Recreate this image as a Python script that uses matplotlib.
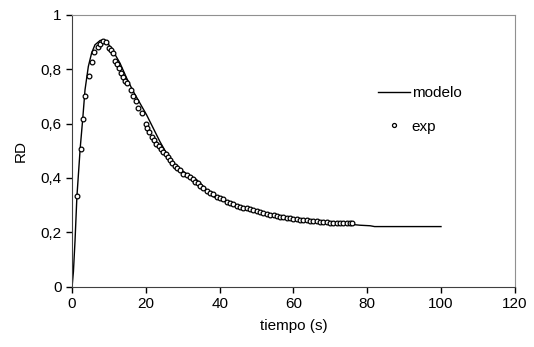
import matplotlib.pyplot as plt
import numpy as np

plt.rcParams['font.family'] = ['Liberation Sans', 'DejaVu Sans']

# modelo
t_mod = [0, 0.36, 0.8, 1.3, 2.2, 2.9, 3.5, 4.4, 5.3, 6.2, 7.6, 8.5, 9.4, 10.3,
         11.7, 13.0, 14.8, 16.6, 18.4, 20.2, 22.0, 23.8, 25.7, 27.5, 29.3, 31.1,
         33.8, 38.3, 47.3, 56.4, 65.4, 74.4, 78.0, 80.8, 82.0, 100]
rd_mod = [0, 0.055, 0.17, 0.33, 0.51, 0.62, 0.724, 0.81, 0.86, 0.89, 0.906, 0.908,
          0.902, 0.883, 0.853, 0.822, 0.767, 0.718, 0.675, 0.632, 0.583, 0.534,
          0.488, 0.454, 0.432, 0.415, 0.393, 0.331, 0.282, 0.252, 0.237, 0.231,
          0.226, 0.224, 0.221, 0.221]

# exp
t_exp = [1.3, 2.35, 3.0, 3.6, 4.7, 5.3, 6.0, 6.9, 7.6, 8.3, 9.2, 9.9, 10.6, 11.1,
         11.7, 12.3, 12.8, 13.2, 13.7, 14.4, 15.0, 15.9, 16.5, 17.2, 17.8, 18.9,
         20.0, 20.4, 20.9, 21.7, 22.1, 22.8, 23.5, 24.1, 24.7, 25.5, 26.0, 26.6,
         27.2, 27.8, 28.5, 29.3, 30.2, 31.1, 32.0, 32.7, 33.3, 34.0, 34.7, 35.6,
         36.5, 37.4, 38.3, 39.2, 40.1, 41.0, 41.9, 42.8, 43.7, 44.6, 45.5, 46.4,
         47.3, 48.2, 49.1, 50.0, 50.9, 51.8, 52.7, 53.7, 54.6, 55.5, 56.4, 57.3,
         58.2, 59.1, 60.0, 60.9, 61.8, 62.7, 63.6, 64.5, 65.4, 66.3, 67.2, 68.1,
         69.0, 69.9, 70.8, 71.7, 72.6, 73.5, 74.4, 75.3, 76.0]
rd_exp = [0.334, 0.507, 0.617, 0.70, 0.775, 0.828, 0.863, 0.883, 0.894, 0.903,
          0.90, 0.88, 0.871, 0.859, 0.832, 0.819, 0.804, 0.788, 0.77, 0.757, 0.75,
          0.723, 0.70, 0.683, 0.657, 0.638, 0.60, 0.583, 0.568, 0.552, 0.54, 0.524,
          0.518, 0.507, 0.495, 0.487, 0.476, 0.465, 0.454, 0.445, 0.436, 0.43,
          0.415, 0.409, 0.403, 0.396, 0.386, 0.381, 0.372, 0.362, 0.353, 0.346,
          0.34, 0.331, 0.325, 0.322, 0.313, 0.307, 0.303, 0.298, 0.294, 0.291,
          0.289, 0.285, 0.281, 0.278, 0.274, 0.27, 0.266, 0.265, 0.263, 0.26,
          0.258, 0.255, 0.254, 0.252, 0.249, 0.248, 0.247, 0.245, 0.245, 0.243,
          0.242, 0.241, 0.239, 0.238, 0.237, 0.236, 0.233, 0.236, 0.236, 0.234,
          0.234, 0.234, 0.233]

xticks = [0, 20, 40, 60, 80, 100, 120]
yticks = [0, 0.2, 0.4, 0.6, 0.8, 1]
ylabels = ['0', '0,2', '0,4', '0,6', '0,8', '1']

fig = plt.figure(figsize=(5.34, 3.47), dpi=100)
ax = fig.add_axes([0.135, 0.174, 0.829, 0.783])

ax.plot(t_mod, rd_mod, color='black', lw=1.0, label='modelo')
ax.plot(t_exp, rd_exp, 'o', ls='none', ms=3.4, mfc='white', mec='black',
        mew=0.9, label='exp')

ax.set_xlim(0, 120)
ax.set_ylim(0, 1)
ax.set_xticks(xticks)
ax.set_yticks(yticks)
ax.set_yticklabels(ylabels)
ax.tick_params(direction='out', length=4, width=1, labelsize=11, colors='black')
ax.set_xlabel('tiempo (s)', fontsize=11, labelpad=6)
ax.set_ylabel('RD', fontsize=11, labelpad=9)

for s in ['left', 'bottom']:
    ax.spines[s].set_color('#404040')
for s in ['top', 'right']:
    ax.spines[s].set_color('#909090')

ax.legend(loc='center left', bbox_to_anchor=(0.66, 0.65), frameon=False,
          fontsize=11, handlelength=2.1, handletextpad=0.1, labelspacing=1.25,
          markerscale=0.85)

fig.savefig('out.png', dpi=100)
